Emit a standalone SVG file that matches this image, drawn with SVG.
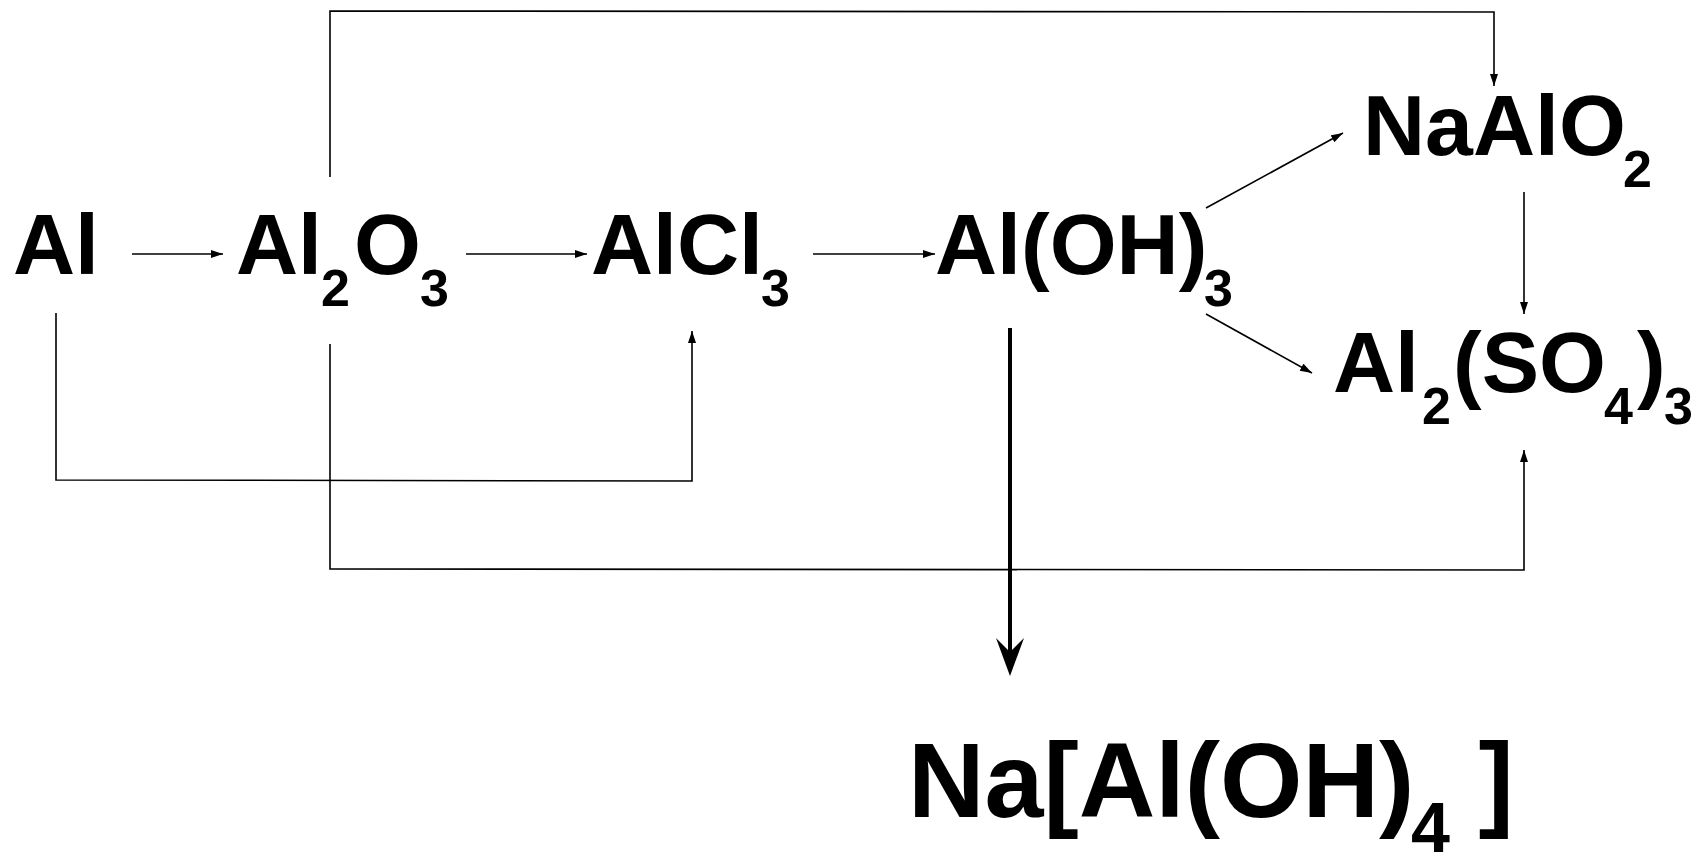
<svg xmlns="http://www.w3.org/2000/svg" width="1700" height="855" viewBox="0 0 1700 855">
<style>
.f{font-family:"Liberation Sans",Arial,sans-serif;font-weight:bold;fill:#000}
.m{font-size:86px}
.s{font-size:52px}
.L{font-size:106px}
.S{font-size:70px}
.c{fill:none;stroke:#000;stroke-width:1.6}
</style>
<defs>
<marker id="ah" markerUnits="userSpaceOnUse" markerWidth="13" markerHeight="9" refX="12" refY="4" orient="auto">
<path d="M0,0 L12,4 L0,8 Z" fill="#000"/>
</marker>
</defs>
<g id="connectors">
<line class="c" x1="132" y1="254" x2="223" y2="254" marker-end="url(#ah)"/>
<line class="c" x1="466" y1="254" x2="587" y2="254" marker-end="url(#ah)"/>
<line class="c" x1="813" y1="254" x2="935" y2="254" marker-end="url(#ah)"/>
<polyline class="c" points="330,177 330,11 1494,12 1494,86" marker-end="url(#ah)"/>
<polyline class="c" points="56,313 56,480 692,481 692,331" marker-end="url(#ah)"/>
<polyline class="c" points="330,344 330,569 1524,570 1524,450" marker-end="url(#ah)"/>
<line class="c" x1="1206" y1="208" x2="1343" y2="133" marker-end="url(#ah)"/>
<line class="c" x1="1206" y1="314" x2="1312" y2="373" marker-end="url(#ah)"/>
<line class="c" x1="1524" y1="192" x2="1524" y2="314" marker-end="url(#ah)"/>
<line x1="1010" y1="328" x2="1010" y2="655" stroke="#000" stroke-width="4"/>
<path d="M996,638 L1010,676 L1024,638 L1010,652 Z" fill="#000"/>
</g>
<g id="Al"><text class="f m" x="13" y="274">Al</text></g>
<g id="Al2O3"><text class="f m" y="274"><tspan x="236" y="274">Al</tspan><tspan class="s" x="321" y="306">2</tspan><tspan x="354" y="274">O</tspan><tspan class="s" x="420" y="306">3</tspan></text></g>
<g id="AlCl3"><text class="f m" y="274"><tspan x="591" y="274">AlCl</tspan><tspan class="s" x="761" y="306">3</tspan></text></g>
<g id="AlOH3"><text class="f m" y="274"><tspan x="935" y="274">Al(OH)</tspan><tspan class="s" x="1204" y="306">3</tspan></text></g>
<g id="NaAlO2"><text class="f m" y="155"><tspan x="1363" y="155">NaAlO</tspan><tspan class="s" x="1623" y="187">2</tspan></text></g>
<g id="Al2SO43"><text class="f m" y="392"><tspan x="1333" y="392">Al</tspan><tspan class="s" x="1422" y="424">2</tspan><tspan x="1453" y="392">(SO</tspan><tspan class="s" x="1604" y="424">4</tspan><tspan x="1637" y="392">)</tspan><tspan class="s" x="1664" y="424">3</tspan></text></g>
<g id="NaAlOH4"><text class="f L" y="817"><tspan x="908" y="817">Na[Al(OH)</tspan><tspan class="S" x="1411" y="852">4</tspan><tspan x="1449" y="817"> ]</tspan></text></g>
</svg>
